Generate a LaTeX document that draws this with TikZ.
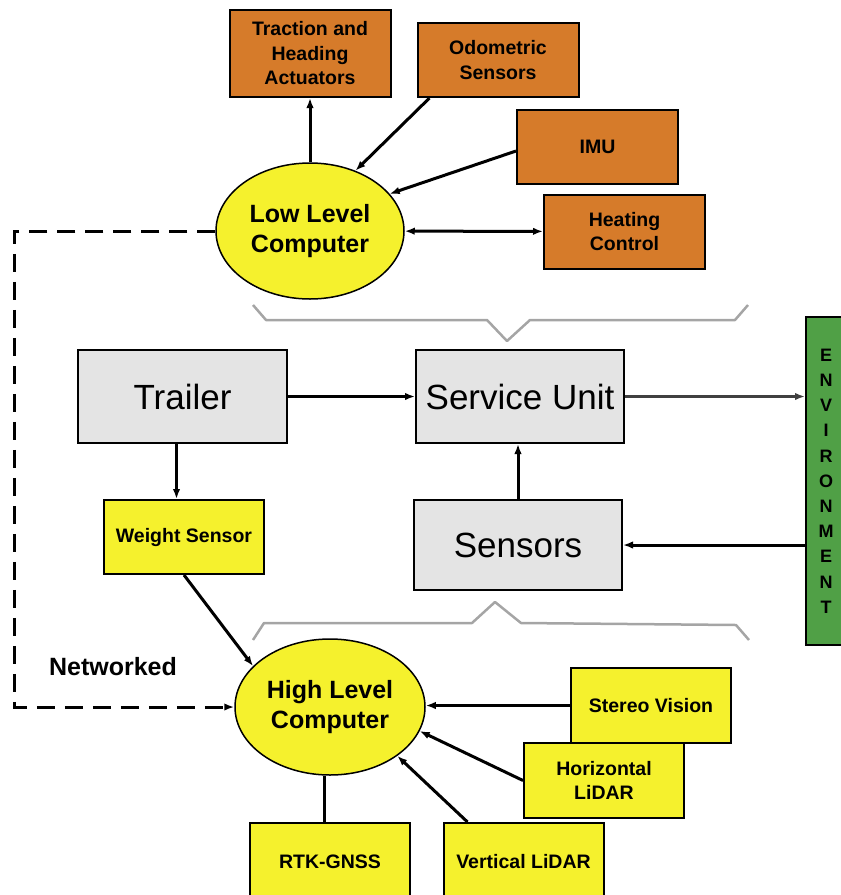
\documentclass[tikz,border=0pt]{standalone}
\usepackage{fontspec}
\setmainfont{Liberation Sans}
\usetikzlibrary{shapes.geometric,arrows.meta}

\definecolor{boxorange}{RGB}{214,123,42}
\definecolor{boxyellow}{RGB}{245,241,45}
\definecolor{boxgray}{RGB}{228,228,228}
\definecolor{envgreen}{RGB}{80,160,70}
\definecolor{bracegray}{RGB}{165,165,165}

\tikzset{
  >={Latex[length=10pt,width=7.5pt]},
  small/.style={font=\bfseries\fontsize{19.5}{24.5}\selectfont, align=center},
  orangebox/.style={rectangle,draw,fill=boxorange,line width=2pt,minimum width=161pt,minimum height=74pt,small},
  yellowbox/.style={rectangle,draw,fill=boxyellow,line width=2pt,minimum width=160pt,minimum height=75pt,small},
  graybox/.style={rectangle,draw,fill=boxgray,line width=2pt,minimum width=208pt,minimum height=93pt,font=\fontsize{35}{40}\selectfont},
  computer/.style={ellipse,draw,fill=boxyellow,line width=1.5pt,inner sep=0pt,minimum width=188pt,minimum height=136pt,align=center,font=\bfseries\fontsize{25}{30}\selectfont},
  link/.style={line width=3pt},
  netline/.style={line width=3pt,dash pattern=on 18pt off 10pt},
  brace/.style={draw=bracegray,line width=2.5pt,line join=round},
}

\begin{document}
\begin{tikzpicture}[x=1pt,y=-1pt]
\useasboundingbox (0,0) rectangle (841,895);

% low level side
\node at (310,53.5) [orangebox,minimum height=87pt] (trac) {Traction and\\Heading\\Actuators};
\node at (498,60) [orangebox] (odo) {Odometric\\Sensors};
\node at (597.5,147) [orangebox] (imu) {IMU};
\node at (624.5,231.5) [orangebox] (heat) {Heating\\Control};
\node at (310,231) [computer] (llc) {Low Level\\Computer};

\draw[link,->] (llc) -- (trac);
\draw[link,->] ([xshift=13pt]odo.south west) -- (llc.53);
\draw[link,->] ([yshift=-4pt]imu.west) -- (llc.25);
\draw[link,<->] (llc) -- (heat);

% upper brace
\draw[brace] (253,305) -- (266,320) -- (487,320) -- (507,341) -- (530,320) -- (735,320) -- (748,305);

% vehicle blocks
\node at (182.5,396.5) [graybox,minimum width=209pt] (trailer) {Trailer};
\node at (520,396.5) [graybox] (su) {Service Unit};
\node at (184,537) [yellowbox,minimum height=74pt] (weight) {Weight Sensor};
\node at (518,545) [graybox,minimum height=90pt] (sens) {Sensors};
\node at (826,481) [rectangle,draw,fill=envgreen,line width=2pt,minimum width=40pt,minimum height=328pt,
  align=center,font=\bfseries\fontsize{18}{25.2}\selectfont] (env) {E\\N\\V\\I\\R\\O\\N\\M\\E\\N\\T};

\draw[line width=3.5pt,->] (trailer) -- (su);
\draw[line width=2.2pt,draw=black!75,->] (su.east) -- (env.west |- su.east);
\draw[link,->] ([xshift=-6pt]trailer.south) -- ([xshift=-6pt]trailer.south |- weight.north);
\draw[link,->] (sens) -- (sens |- su.south);
\draw[link,->] (env.west |- sens) -- (sens.east);

% lower brace
\draw[brace] (253,640) -- (264,623) -- (472,623) -- (495,602) -- (521,623) -- (736,625) -- (749,640);

% high level side
\node at (330,707) [computer,minimum width=190pt] (hlc) {High Level\\Computer};
\node at (651,705.5) [yellowbox] (stereo) {Stereo Vision};
\node at (604,780.5) [yellowbox] (hor) {Horizontal\\LiDAR};
\node at (330,861.5) [yellowbox,minimum height=77pt] (rtk) {RTK-GNSS};
\node at (523.5,861.5) [yellowbox,minimum height=77pt] (vert) {Vertical LiDAR};
\node at (113,667) [font=\bfseries\fontsize{25}{30}\selectfont] (net) {Networked};

\draw[link,->] (weight.south) -- (hlc.152);
\draw[link,->] (stereo.west) -- (hlc.east |- stereo.west);
\draw[link,->] (hor.west) -- (hlc.-15);
\draw[link,->] ([xshift=25pt]vert.north west) -- (hlc.-36);
\draw[link] ([xshift=-6pt]rtk.north) -- ([xshift=-6pt]rtk.north |- hlc.south);

% network link between the computers
\coordinate (netcorner) at (14,707);
\draw[netline,->] (llc.west) -| (netcorner) -- (hlc.west);
\end{tikzpicture}
\end{document}
